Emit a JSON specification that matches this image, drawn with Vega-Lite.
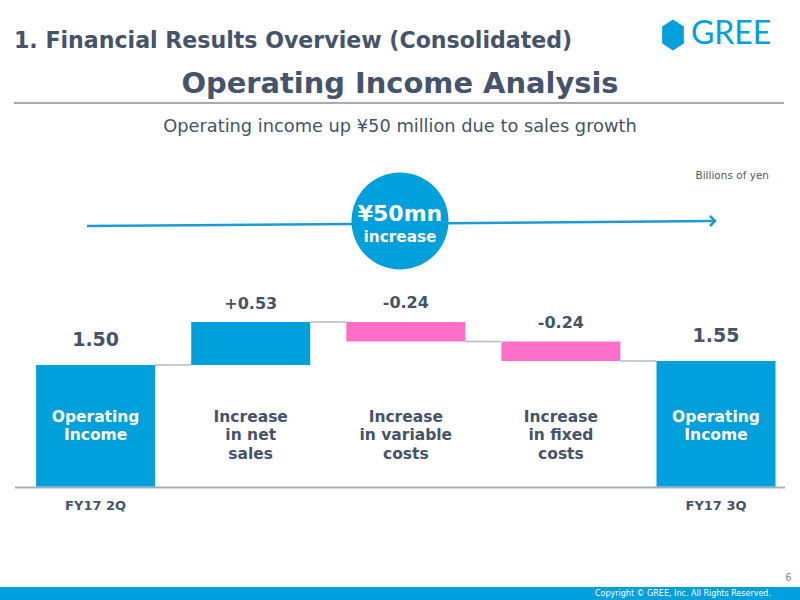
{
  "$schema": "https://vega.github.io/schema/vega-lite/v6.json",
  "width": 800,
  "height": 600,
  "padding": 0,
  "autosize": {"type": "fit", "contains": "padding"},
  "background": "white",
  "config": {
    "view": {"stroke": null},
    "axis": {"disable": true},
    "text": {"font": "DejaVu Sans"}
  },
  "data": {
    "values": [
      {"idx": 0, "step": "Operating Income FY17 2Q", "type": "total", "start": 0, "end": 1.50, "label": "1.50", "name": "Operating\nIncome", "period": "FY17 2Q"},
      {"idx": 1, "step": "Increase in net sales", "type": "increase", "start": 1.50, "end": 2.03, "label": "+0.53", "name": "Increase\nin net\nsales", "period": ""},
      {"idx": 2, "step": "Increase in variable costs", "type": "decrease", "start": 2.03, "end": 1.79, "label": "-0.24", "name": "Increase\nin variable\ncosts", "period": ""},
      {"idx": 3, "step": "Increase in fixed costs", "type": "decrease", "start": 1.79, "end": 1.55, "label": "-0.24", "name": "Increase\nin fixed\ncosts", "period": ""},
      {"idx": 4, "step": "Operating Income FY17 3Q", "type": "total", "start": 0, "end": 1.55, "label": "1.55", "name": "Operating\nIncome", "period": "FY17 3Q"}
    ]
  },
  "layer": [
    {
      "data": {"values": [{}]},
      "mark": {"type": "rect", "color": "#00a0dc"},
      "encoding": {
        "x": {"datum": -0.61638, "type": "quantitative", "axis": null, "scale": {"domain": [-0.61638, 4.54159], "nice": false, "zero": false, "padding": 0}},
        "x2": {"datum": 4.54159},
        "y": {"datum": -1.2407, "type": "quantitative", "axis": null, "scale": {"domain": [-1.40123, 6.00617], "nice": false, "zero": false, "padding": 0}},
        "y2": {"datum": -1.40123}
      }
    },
    {
      "data": {"values": [{}]},
      "mark": {"type": "text", "text": "Copyright © GREE, Inc. All Rights Reserved.", "align": "right", "baseline": "middle", "fontSize": 8, "color": "white"},
      "encoding": {"x": {"datum": 4.35461, "type": "quantitative"}, "y": {"datum": -1.321, "type": "quantitative"}}
    },
    {
      "data": {"values": [{}]},
      "mark": {"type": "text", "text": "6", "align": "center", "baseline": "middle", "fontSize": 10, "color": "#8c8c8c"},
      "encoding": {"x": {"datum": 4.46744, "type": "quantitative"}, "y": {"datum": -1.1296, "type": "quantitative"}}
    },
    {
      "data": {"values": [{}]},
      "mark": {"type": "text", "text": "1. Financial Results Overview (Consolidated)", "align": "left", "baseline": "middle", "fontSize": 22.1, "fontWeight": "bold", "color": "#44546a"},
      "encoding": {"x": {"datum": -0.52611, "type": "quantitative"}, "y": {"datum": 5.5, "type": "quantitative"}}
    },
    {
      "data": {"values": [{}]},
      "mark": {"type": "point", "shape": "M0,-1L0.7,-0.55L0.7,0.55L0,1L-0.7,0.55L-0.7,-0.55Z", "size": 961, "filled": true, "color": "#00a0dc", "opacity": 1},
      "encoding": {"x": {"datum": 3.72276, "type": "quantitative"}, "y": {"datum": 5.5741, "type": "quantitative"}}
    },
    {
      "data": {"values": [{}]},
      "mark": {"type": "text", "text": "GREE", "align": "left", "baseline": "middle", "font": "Lato", "fontSize": 32, "color": "#00a0dc"},
      "encoding": {"x": {"datum": 3.83817, "type": "quantitative"}, "y": {"datum": 5.5864, "type": "quantitative"}}
    },
    {
      "data": {"values": [{}]},
      "mark": {"type": "text", "text": "Operating Income Analysis", "align": "center", "baseline": "middle", "fontSize": 28.9, "fontWeight": "bold", "color": "#44546a"},
      "encoding": {"x": {"datum": 1.9626, "type": "quantitative"}, "y": {"datum": 4.9691, "type": "quantitative"}}
    },
    {
      "data": {"values": [{}]},
      "mark": {"type": "rule", "color": "#555555", "strokeWidth": 1},
      "encoding": {"x": {"datum": -0.52611, "type": "quantitative"}, "x2": {"datum": 4.43843}, "y": {"datum": 4.7346, "type": "quantitative"}}
    },
    {
      "data": {"values": [{}]},
      "mark": {"type": "text", "text": "Operating income up ¥50 million due to sales growth", "align": "center", "baseline": "middle", "fontSize": 17.8, "color": "#44546a"},
      "encoding": {"x": {"datum": 1.9626, "type": "quantitative"}, "y": {"datum": 4.4383, "type": "quantitative"}}
    },
    {
      "data": {"values": [{}]},
      "mark": {"type": "text", "text": "Billions of yen", "align": "right", "baseline": "middle", "fontSize": 10.5, "color": "#595959"},
      "encoding": {"x": {"datum": 4.34171, "type": "quantitative"}, "y": {"datum": 3.8333, "type": "quantitative"}}
    },
    {
      "data": {"values": [{}]},
      "mark": {"type": "rule", "color": "#1a9ad6", "strokeWidth": 2.5},
      "encoding": {"x": {"datum": -0.05545, "type": "quantitative"}, "x2": {"datum": 3.9871}, "y": {"datum": 3.216, "type": "quantitative"}, "y2": {"datum": 3.2778}}
    },
    {
      "data": {"values": [{}]},
      "mark": {"type": "point", "shape": "M-1,-1L0,0L-1,1", "size": 100, "filled": false, "strokeWidth": 2.5, "color": "#1a9ad6", "opacity": 1},
      "encoding": {"x": {"datum": 3.99355, "type": "quantitative"}, "y": {"datum": 3.2778, "type": "quantitative"}}
    },
    {
      "data": {"values": [{}]},
      "mark": {"type": "point", "shape": "circle", "size": 9409, "filled": true, "color": "#00a0dc", "opacity": 1},
      "encoding": {"x": {"datum": 1.9626, "type": "quantitative"}, "y": {"datum": 3.2778, "type": "quantitative"}}
    },
    {
      "data": {"values": [{}]},
      "mark": {"type": "text", "text": "¥50mn", "align": "center", "baseline": "middle", "fontSize": 22, "fontWeight": "bold", "color": "white"},
      "encoding": {"x": {"datum": 1.9626, "type": "quantitative"}, "y": {"datum": 3.3642, "type": "quantitative"}}
    },
    {
      "data": {"values": [{}]},
      "mark": {"type": "text", "text": "increase", "align": "center", "baseline": "middle", "fontSize": 15.3, "fontWeight": "bold", "color": "white"},
      "encoding": {"x": {"datum": 1.9626, "type": "quantitative"}, "y": {"datum": 3.0802, "type": "quantitative"}}
    },
    {
      "data": {"values": [{}]},
      "mark": {"type": "rule", "color": "#a5acb4", "strokeWidth": 2},
      "encoding": {"x": {"datum": -0.51966, "type": "quantitative"}, "x2": {"datum": 4.44487}, "y": {"datum": -0.012, "type": "quantitative"}}
    },
    {
      "transform": [
        {"window": [{"op": "lead", "field": "idx", "as": "nextIdx"}], "sort": [{"field": "idx"}]},
        {"filter": "datum.nextIdx != null"}
      ],
      "mark": {"type": "rule", "color": "#b4bac1", "strokeWidth": 1.5, "xOffset": 59.5, "x2Offset": -59.5},
      "encoding": {
        "x": {"field": "idx", "type": "quantitative"},
        "x2": {"field": "nextIdx"},
        "y": {"field": "end", "type": "quantitative"}
      }
    },
    {
      "mark": {"type": "bar", "width": 119},
      "encoding": {
        "x": {"field": "idx", "type": "quantitative"},
        "y": {"field": "start", "type": "quantitative"},
        "y2": {"field": "end"},
        "color": {"field": "type", "type": "nominal", "legend": null, "scale": {"domain": ["total", "increase", "decrease"], "range": ["#00a0dc", "#00a0dc", "#ff6ec7"]}}
      }
    },
    {
      "transform": [{"filter": "datum.type === 'total'"}],
      "mark": {"type": "text", "align": "center", "baseline": "middle", "dy": -25, "fontSize": 19, "fontWeight": "bold", "color": "#44546a"},
      "encoding": {"x": {"field": "idx", "type": "quantitative"}, "y": {"field": "end", "type": "quantitative"}, "text": {"field": "label"}}
    },
    {
      "transform": [{"filter": "datum.type === 'increase'"}],
      "mark": {"type": "text", "align": "center", "baseline": "middle", "dy": -18, "fontSize": 16, "fontWeight": "bold", "color": "#44546a"},
      "encoding": {"x": {"field": "idx", "type": "quantitative"}, "y": {"field": "end", "type": "quantitative"}, "text": {"field": "label"}}
    },
    {
      "transform": [{"filter": "datum.type === 'decrease'"}],
      "mark": {"type": "text", "align": "center", "baseline": "middle", "dy": -19, "fontSize": 16, "fontWeight": "bold", "color": "#44546a"},
      "encoding": {"x": {"field": "idx", "type": "quantitative"}, "y": {"field": "start", "type": "quantitative"}, "text": {"field": "label"}}
    },
    {
      "transform": [{"filter": "datum.type === 'total'"}],
      "mark": {"type": "text", "align": "center", "baseline": "alphabetic", "lineBreak": "\n", "lineHeight": 18.5, "fontSize": 15.5, "fontWeight": "bold", "color": "white"},
      "encoding": {"x": {"field": "idx", "type": "quantitative"}, "y": {"datum": 0.7963, "type": "quantitative"}, "text": {"field": "name"}}
    },
    {
      "transform": [{"filter": "datum.type !== 'total'"}],
      "mark": {"type": "text", "align": "center", "baseline": "alphabetic", "lineBreak": "\n", "lineHeight": 18.5, "fontSize": 15.5, "fontWeight": "bold", "color": "#44546a"},
      "encoding": {"x": {"field": "idx", "type": "quantitative"}, "y": {"datum": 0.7963, "type": "quantitative"}, "text": {"field": "name"}}
    },
    {
      "transform": [{"filter": "datum.period !== ''"}],
      "mark": {"type": "text", "align": "center", "baseline": "middle", "fontSize": 13, "fontWeight": "bold", "color": "#44546a"},
      "encoding": {"x": {"field": "idx", "type": "quantitative"}, "y": {"datum": -0.2407, "type": "quantitative"}, "text": {"field": "period"}}
    }
  ]
}
